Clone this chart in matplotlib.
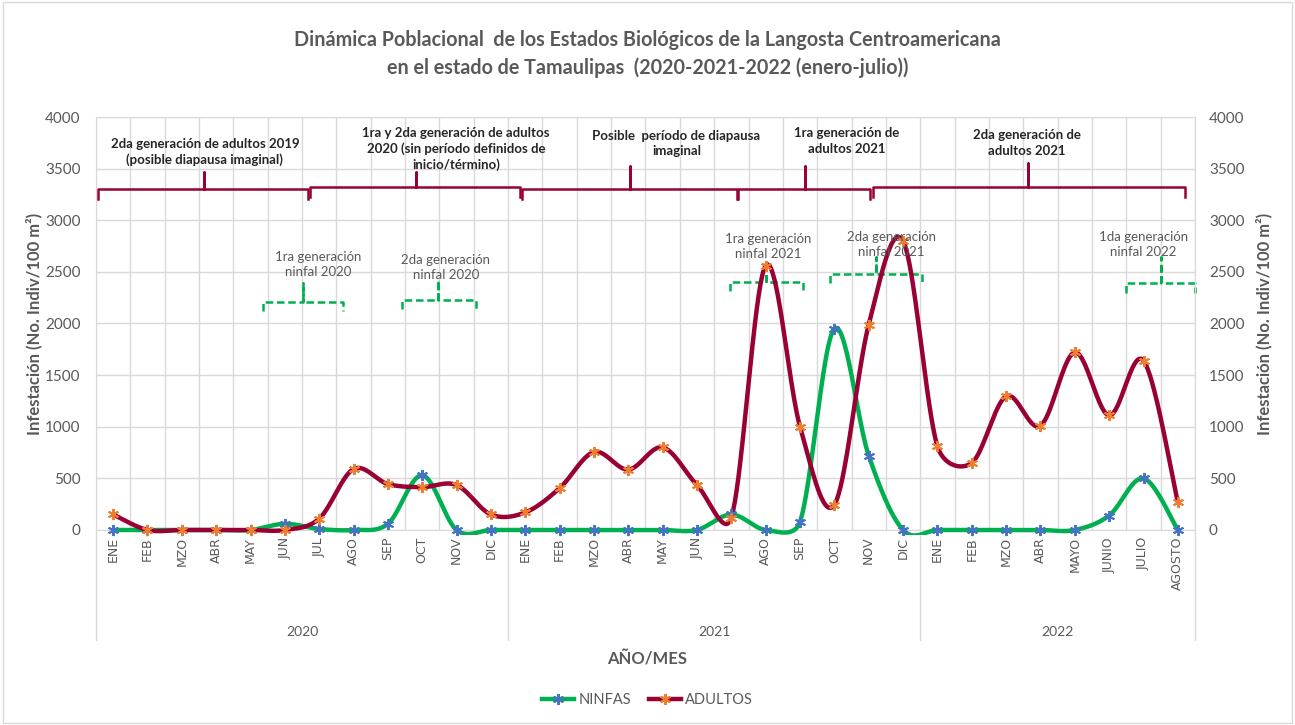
import numpy as np
import matplotlib
matplotlib.use("Agg")
import matplotlib.pyplot as plt
from matplotlib.patches import Rectangle
from matplotlib.lines import Line2D

# datos
meses = ['ENE', 'FEB', 'MZO', 'ABR', 'MAY', 'JUN', 'JUL', 'AGO', 'SEP', 'OCT', 'NOV', 'DIC',
         'ENE', 'FEB', 'MZO', 'ABR', 'MAY', 'JUN', 'JUL', 'AGO', 'SEP', 'OCT', 'NOV', 'DIC',
         'ENE', 'FEB', 'MZO', 'ABR', 'MAYO', 'JUNIO', 'JULIO', 'AGOSTO']
anios = ['2020', '2021', '2022']
meses_por_anio = [12, 12, 8]

ninfas = [0, 0, 0, 0, 0, 60, 10, 0, 60, 530, 0, 0,
          0, 0, 0, 0, 0, 0, 150, 0, 80, 1950, 720, 0,
          0, 0, 0, 0, 0, 140, 500, 0]
adultos = [150, 0, 0, 0, 0, 0, 110, 590, 445, 415, 435, 150,
           170, 405, 755, 585, 800, 435, 120, 2560, 1000, 245, 1990, 2800,
           810, 650, 1295, 1010, 1720, 1110, 1640, 270]

# anotaciones: (texto, x inicio, x fin, x centro, y linea, y pico, x texto, y texto)
llaves_adultos = [
    ("2da generación de adultos 2019\n(posible diapausa imaginal)", -0.44, 5.67, 2.65, 3300, 3470, 2.67, 3660),
    ("1ra y 2da generación de adultos\n2020 (sin período definidos de\ninicio/término)", 5.73, 11.85, 8.82, 3320, 3470, 9.98, 3690),
    ("Posible  período de diapausa\nimaginal", 11.9, 18.17, 15.05, 3300, 3525, 16.4, 3745),
    ("1ra generación de\nadultos 2021", 18.2, 22.04, 20.15, 3300, 3525, 21.35, 3770),
    ("2da generación de\nadultos 2021", 22.13, 31.2, 26.64, 3320, 3555, 26.6, 3750),
]
llaves_ninfas = [
    ("1ra generación\nninfal 2020", 4.36, 6.69, 5.53, 2210, 2390, 5.96, 2570),
    ("2da generación\nninfal 2020", 8.41, 10.57, 9.46, 2230, 2420, 9.69, 2545),
    ("1ra generación\nninfal 2021", 17.96, 20.09, 19.01, 2400, 2545, 19.07, 2745),
    ("2da generación\nninfal 2021", 20.87, 23.55, 22.21, 2480, 2645, 22.65, 2770),
    ("1da generación\nninfal 2022", 29.49, 31.5, 30.51, 2390, 2645, 29.99, 2770),
]

GRIS = '#595959'
VERDE = '#00B050'
GUINDA = '#990033'


def suavizar(y, sx=34.34, sy=413 / 4000, n=40):
    # curva suavizada al estilo Excel: Bezier con brazos limitados a media cuerda (en pixeles)
    y = np.asarray(y, dtype=float)
    pts = np.column_stack([np.arange(len(y)) * sx, y * sy])
    xs, ys = [], []
    for i in range(len(y) - 1):
        p0 = pts[max(i - 1, 0)]
        p1 = pts[i]
        p2 = pts[i + 1]
        p3 = pts[min(i + 2, len(y) - 1)]
        d12 = np.hypot(*(p2 - p1))
        d02 = np.hypot(*(p2 - p0))
        d13 = np.hypot(*(p3 - p1))
        f1 = 1 / 6 if d02 / 6 < d12 / 2 else d12 / (2 * d02)
        f2 = 1 / 6 if d13 / 6 < d12 / 2 else d12 / (2 * d13)
        c1 = p1 + f1 * (p2 - p0)
        c2 = p2 - f2 * (p3 - p1)
        t = np.linspace(0, 1, n)[:, None]
        b = (1 - t) ** 3 * p1 + 3 * (1 - t) ** 2 * t * c1 + 3 * (1 - t) * t ** 2 * c2 + t ** 3 * p2
        xs.extend(b[:, 0] / sx)
        ys.extend(b[:, 1] / sy)
    return np.array(xs), np.array(ys)


plt.rcParams['font.family'] = ['Lato', 'DejaVu Sans']

fig = plt.figure(figsize=(12.95, 7.25), dpi=100)
ax = fig.add_axes([0.0741, 0.269, 0.8487, 0.5696])
x = np.arange(len(meses))

clip = Rectangle((0, -0.012), 1, 1.03, transform=ax.transAxes, facecolor='none', edgecolor='none')
ax.add_patch(clip)

for datos, color, mcolor in [(ninfas, VERDE, '#4472C4'), (adultos, GUINDA, '#ED7D31')]:
    xs, ys = suavizar(datos)
    ln, = ax.plot(xs, ys, color=color, lw=3.2, solid_capstyle='round', zorder=3)
    ln.set_clip_path(clip)
    ax.plot(x, datos, ls='none', marker=(6, 2, 0), ms=8, mec=mcolor, mew=1.4, zorder=4, clip_on=False)

ax.set_xlim(-0.5, len(meses) - 0.5)
ax.set_ylim(0, 4000)
ax.set_yticks(np.arange(0, 4001, 500))
ax.set_xticks(x)
ax.set_xticks(np.arange(-0.5, len(meses), 1), minor=True)
ax.grid(True, which='minor', axis='x', color='#D9D9D9', lw=1)
ax.grid(True, which='major', axis='y', color='#D9D9D9', lw=1)
ax.set_axisbelow(True)
for s in ax.spines.values():
    s.set_color('#D9D9D9')
ax.tick_params(axis='both', which='both', length=0)
ax.tick_params(axis='y', labelsize=11, labelcolor=GRIS, pad=11)
ax.set_xticklabels(meses, rotation=90, fontsize=9, color=GRIS, family='DejaVu Sans', va='top')
ax.tick_params(axis='x', pad=5)

ax2 = ax.twinx()
ax2.set_ylim(0, 4000)
ax2.set_yticks(np.arange(0, 4001, 500))
ax2.tick_params(axis='y', length=0, labelsize=11, labelcolor=GRIS, pad=10)
for s in ax2.spines.values():
    s.set_visible(False)

ax.set_ylabel('Infestación (No. Indiv/100 m²)', fontsize=12, fontweight='bold', color=GRIS, labelpad=2)
ax2.set_ylabel('Infestación (No. Indiv/100 m²)', fontsize=12, fontweight='bold', color=GRIS, labelpad=8)

# eje de categorias de dos niveles
inicio = -0.5
for anio, n in zip(anios, meses_por_anio):
    ax.plot([inicio, inicio], [0, -0.266], transform=ax.get_xaxis_transform(), color='#D9D9D9', lw=1, clip_on=False)
    ax.text(inicio + n / 2, -0.248, anio, transform=ax.get_xaxis_transform(), ha='center', va='center',
            fontsize=10, color=GRIS)
    inicio += n
ax.plot([inicio, inicio], [0, -0.266], transform=ax.get_xaxis_transform(), color='#D9D9D9', lw=1, clip_on=False)

fig.text(0.5, 0.09, 'AÑO/MES', ha='center', va='center', fontsize=12, fontweight='bold', color=GRIS)

# llaves
for texto, x0, x1, xc, yl, yp, xt, yt in llaves_adultos:
    ax.plot([x0, x0, xc, xc, xc, x1, x1], [yl - 90, yl, yl, yp, yl, yl, yl - 90], color=GUINDA, lw=1.8,
            solid_joinstyle='round', clip_on=False, zorder=2)
    ax.text(xt, yt, texto, ha='center', va='center', fontsize=9.5, fontweight='bold', color='#262626',
            linespacing=1.35, zorder=5)
for texto, x0, x1, xc, yl, yp, xt, yt in llaves_ninfas:
    ax.plot([x0, x0, xc, xc, xc, x1, x1], [yl - 90, yl, yl, yp, yl, yl, yl - 90], color=VERDE, lw=1.8,
            ls=(0, (3, 1.5)), clip_on=False, zorder=2)
    ax.text(xt, yt, texto, ha='center', va='center', fontsize=9.5, color=GRIS, linespacing=1.3, zorder=5)

fig.text(0.5, 0.945, 'Dinámica Poblacional  de los Estados Biológicos de la Langosta Centroamericana',
         ha='center', va='center', fontsize=14.2, fontweight='bold', color=GRIS)
fig.text(0.5, 0.906, 'en el estado de Tamaulipas  (2020-2021-2022 (enero-julio))',
         ha='center', va='center', fontsize=14.2, fontweight='bold', color=GRIS)

handles = [Line2D([], [], color=VERDE, lw=3.2, marker=(6, 2, 0), ms=8, mec='#4472C4', mew=1.4),
           Line2D([], [], color=GUINDA, lw=3.2, marker=(6, 2, 0), ms=8, mec='#ED7D31', mew=1.4)]
fig.legend(handles, ['NINFAS', 'ADULTOS'], loc='center', bbox_to_anchor=(0.5, 0.035), ncol=2,
           frameon=False, fontsize=10.5, labelcolor=GRIS, handlelength=2.2, columnspacing=1.2, handletextpad=0.3)

fig.patches.append(Rectangle((0.002, 0.003), 0.996, 0.994, transform=fig.transFigure, fill=False,
                             edgecolor='#D9D9D9', lw=1))

fig.savefig('out.png', dpi=100)
